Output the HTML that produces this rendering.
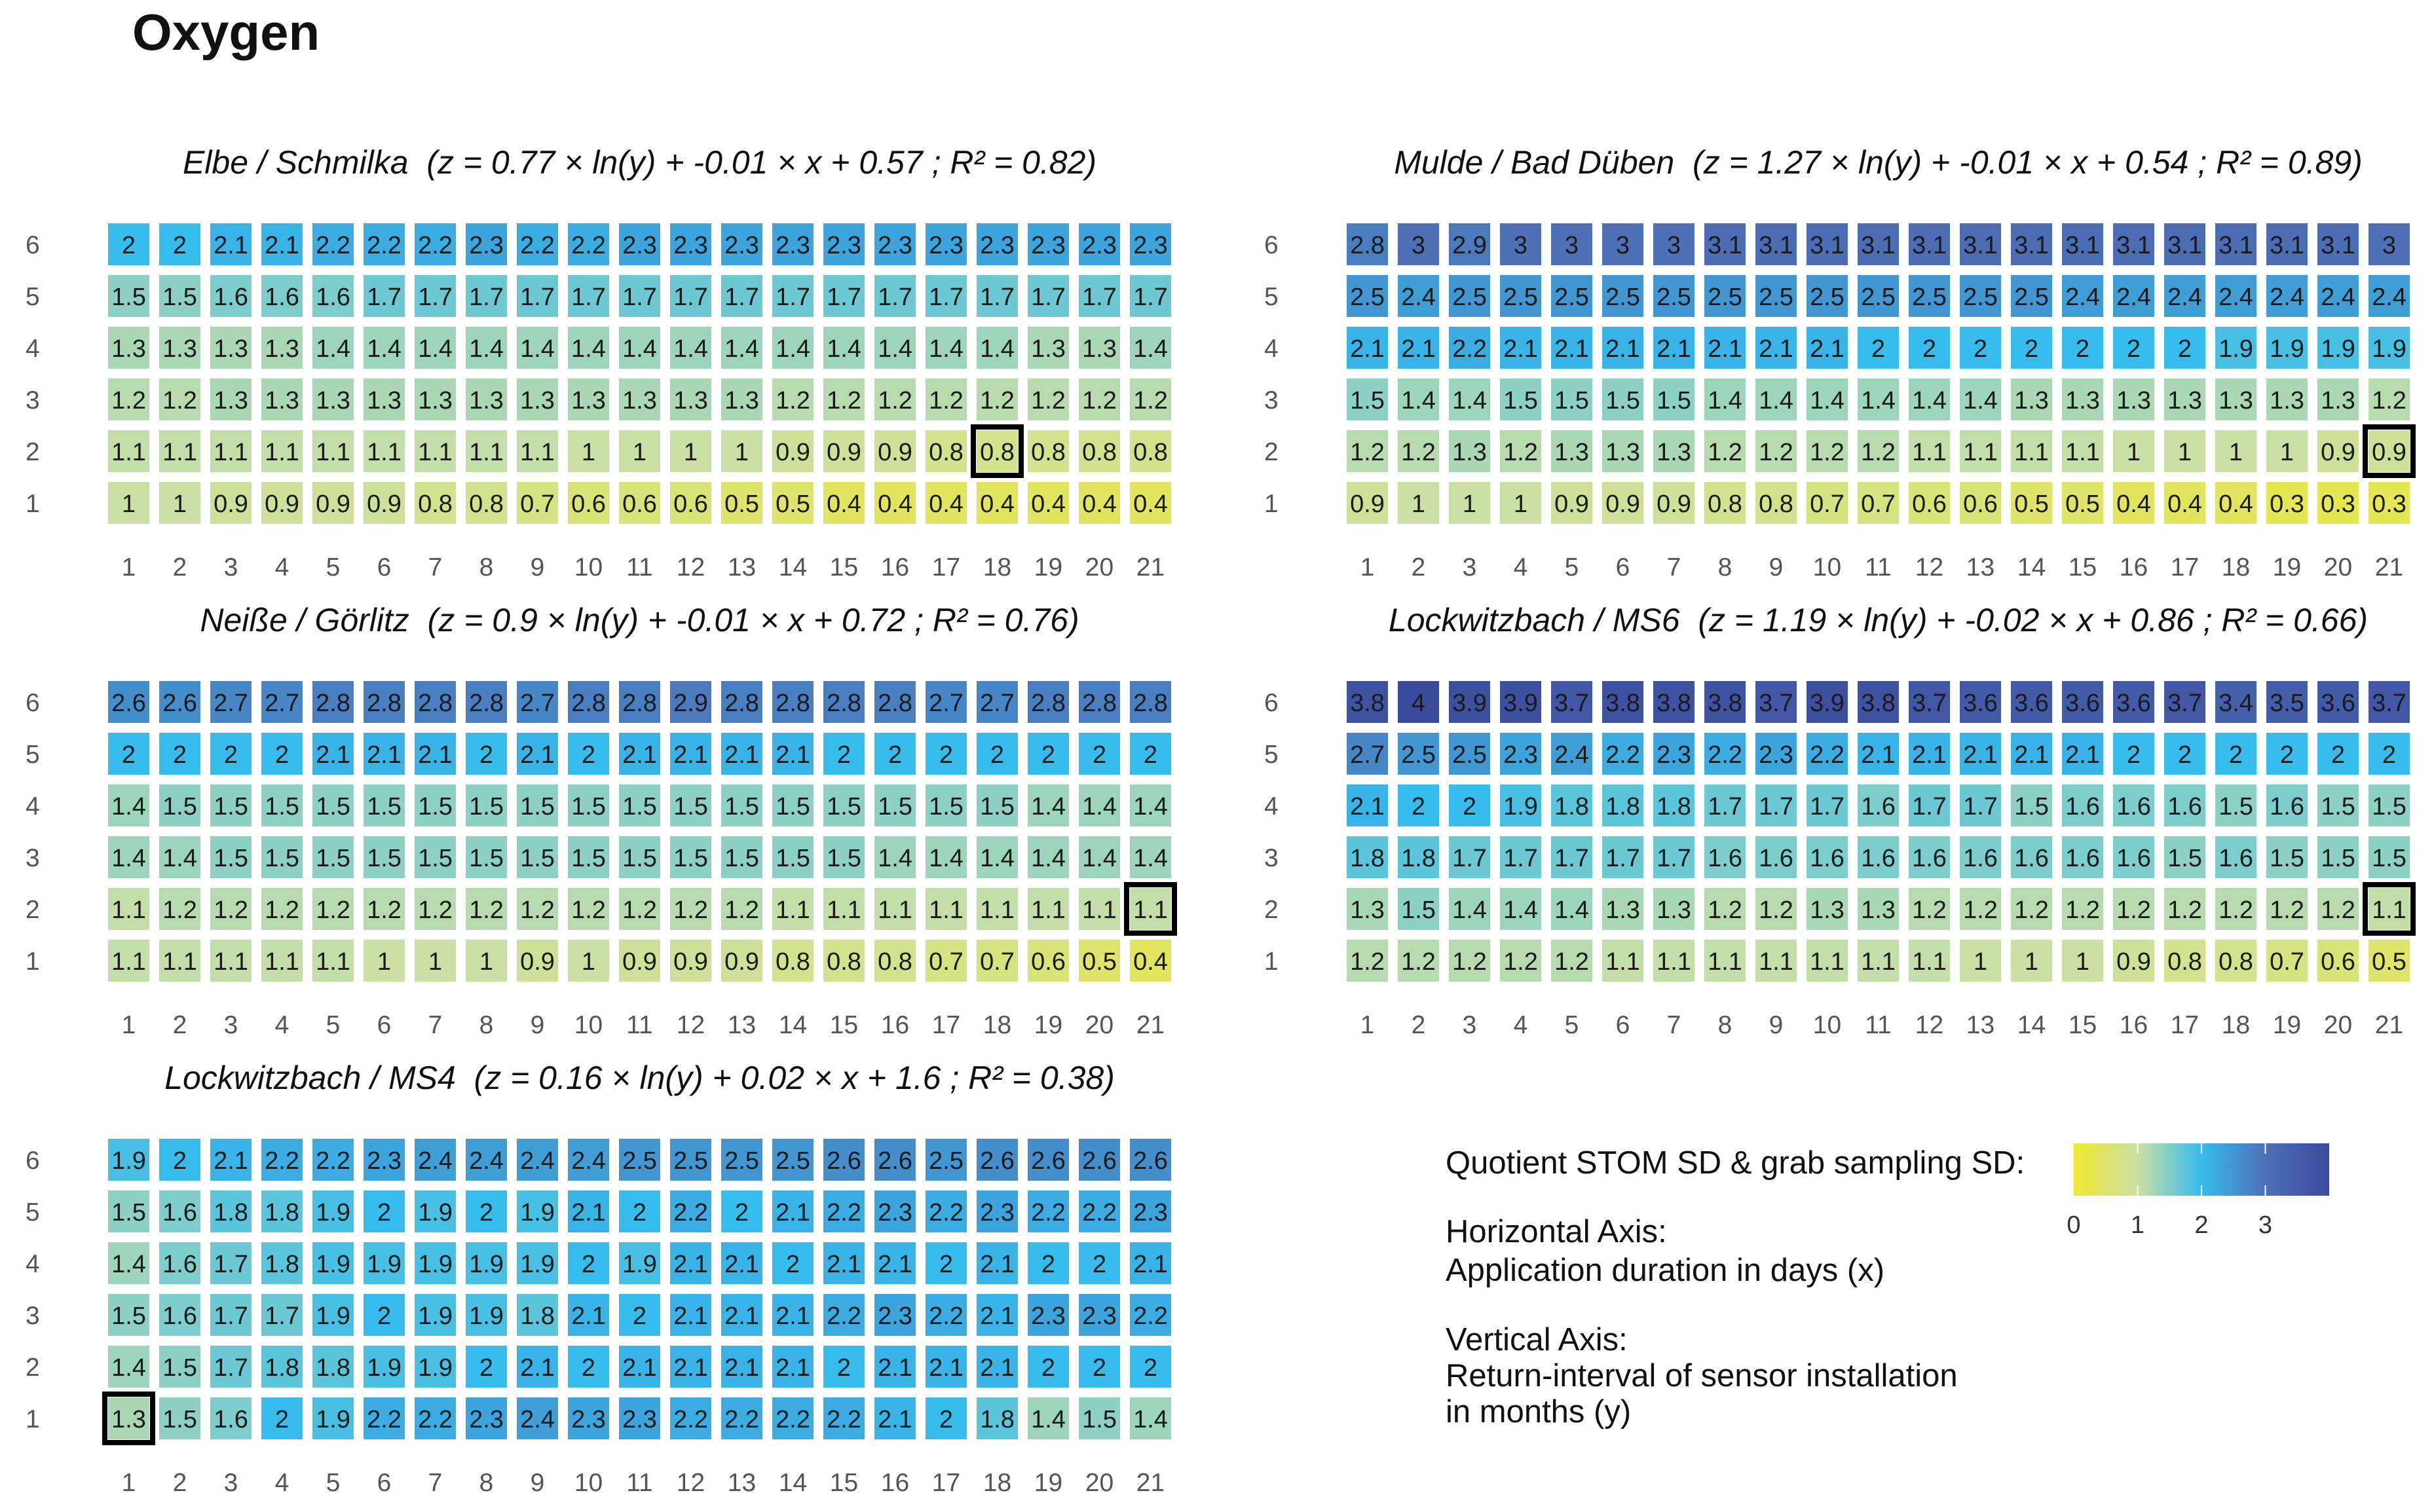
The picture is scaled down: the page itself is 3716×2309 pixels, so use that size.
<!DOCTYPE html>
<html><head><meta charset="utf-8">
<style>
html,body{margin:0;padding:0;background:#fff;}
svg{display:block;font-family:"Liberation Sans",sans-serif;}
text{white-space:pre;}
</style></head>
<body>
<svg id="chart" width="3716" height="2309" viewBox="0 0 3716 2309" xmlns="http://www.w3.org/2000/svg">
<rect width="3716" height="2309" fill="#fff"/>
<text x="202" y="76" font-size="78" font-weight="bold" fill="#111">Oxygen</text>
<g id="panels"></g>
<g>
<defs><linearGradient id="cbar" x1="0" x2="1" y1="0" y2="0">
<stop offset="0" stop-color="#f0ea30"/><stop offset="0.25" stop-color="#cbe0a4"/><stop offset="0.5" stop-color="#36bced"/><stop offset="0.75" stop-color="#4e70b6"/><stop offset="1" stop-color="#3b4b9c"/></linearGradient></defs>
<text x="2207" y="1792" font-size="49" fill="#111">Quotient STOM SD &amp; grab sampling SD:</text>
<rect x="3166" y="1746" width="390" height="80" fill="url(#cbar)"/>
<g id="cbticks"></g>
<text x="2207" y="1897" font-size="49" fill="#111">Horizontal Axis:</text>
<text x="2207" y="1956" font-size="49" fill="#111">Application duration in days (x)</text>
<text x="2207" y="2062" font-size="49" fill="#111">Vertical Axis:</text>
<text x="2207" y="2117" font-size="49" fill="#111">Return-interval of sensor installation</text>
<text x="2207" y="2172" font-size="49" fill="#111">in months (y)</text>
</g>
</svg>
<script>
const days = [1,2,3,4,5,6,7,8,9,10,11,12,13,14,15,16,17,18,19,20,21];
const months = [1,2,3,4,5,6];
const colorTicks = [0,1,2,3];
const panelTitles = [
 "Elbe / Schmilka  (z = 0.77 × ln(y) + -0.01 × x + 0.57 ; R² = 0.82)",
 "Mulde / Bad Düben  (z = 1.27 × ln(y) + -0.01 × x + 0.54 ; R² = 0.89)",
 "Neiße / Görlitz  (z = 0.9 × ln(y) + -0.01 × x + 0.72 ; R² = 0.76)",
 "Lockwitzbach / MS6  (z = 1.19 × ln(y) + -0.02 × x + 0.86 ; R² = 0.66)",
 "Lockwitzbach / MS4  (z = 0.16 × ln(y) + 0.02 × x + 1.6 ; R² = 0.38)"
];
// rows listed from month 1 up to month 6
const elbe = [
 [1,1,0.9,0.9,0.9,0.9,0.8,0.8,0.7,0.6,0.6,0.6,0.5,0.5,0.4,0.4,0.4,0.4,0.4,0.4,0.4],
 [1.1,1.1,1.1,1.1,1.1,1.1,1.1,1.1,1.1,1,1,1,1,0.9,0.9,0.9,0.8,0.8,0.8,0.8,0.8],
 [1.2,1.2,1.3,1.3,1.3,1.3,1.3,1.3,1.3,1.3,1.3,1.3,1.3,1.2,1.2,1.2,1.2,1.2,1.2,1.2,1.2],
 [1.3,1.3,1.3,1.3,1.4,1.4,1.4,1.4,1.4,1.4,1.4,1.4,1.4,1.4,1.4,1.4,1.4,1.4,1.3,1.3,1.4],
 [1.5,1.5,1.6,1.6,1.6,1.7,1.7,1.7,1.7,1.7,1.7,1.7,1.7,1.7,1.7,1.7,1.7,1.7,1.7,1.7,1.7],
 [2,2,2.1,2.1,2.2,2.2,2.2,2.3,2.2,2.2,2.3,2.3,2.3,2.3,2.3,2.3,2.3,2.3,2.3,2.3,2.3]
];
const mulde = [
 [0.9,1,1,1,0.9,0.9,0.9,0.8,0.8,0.7,0.7,0.6,0.6,0.5,0.5,0.4,0.4,0.4,0.3,0.3,0.3],
 [1.2,1.2,1.3,1.2,1.3,1.3,1.3,1.2,1.2,1.2,1.2,1.1,1.1,1.1,1.1,1,1,1,1,0.9,0.9],
 [1.5,1.4,1.4,1.5,1.5,1.5,1.5,1.4,1.4,1.4,1.4,1.4,1.4,1.3,1.3,1.3,1.3,1.3,1.3,1.3,1.2],
 [2.1,2.1,2.2,2.1,2.1,2.1,2.1,2.1,2.1,2.1,2,2,2,2,2,2,2,1.9,1.9,1.9,1.9],
 [2.5,2.4,2.5,2.5,2.5,2.5,2.5,2.5,2.5,2.5,2.5,2.5,2.5,2.5,2.4,2.4,2.4,2.4,2.4,2.4,2.4],
 [2.8,3,2.9,3,3,3,3,3.1,3.1,3.1,3.1,3.1,3.1,3.1,3.1,3.1,3.1,3.1,3.1,3.1,3]
];
const neisse = [
 [1.1,1.1,1.1,1.1,1.1,1,1,1,0.9,1,0.9,0.9,0.9,0.8,0.8,0.8,0.7,0.7,0.6,0.5,0.4],
 [1.1,1.2,1.2,1.2,1.2,1.2,1.2,1.2,1.2,1.2,1.2,1.2,1.2,1.1,1.1,1.1,1.1,1.1,1.1,1.1,1.1],
 [1.4,1.4,1.5,1.5,1.5,1.5,1.5,1.5,1.5,1.5,1.5,1.5,1.5,1.5,1.5,1.4,1.4,1.4,1.4,1.4,1.4],
 [1.4,1.5,1.5,1.5,1.5,1.5,1.5,1.5,1.5,1.5,1.5,1.5,1.5,1.5,1.5,1.5,1.5,1.5,1.4,1.4,1.4],
 [2,2,2,2,2.1,2.1,2.1,2,2.1,2,2.1,2.1,2.1,2.1,2,2,2,2,2,2,2],
 [2.6,2.6,2.7,2.7,2.8,2.8,2.8,2.8,2.7,2.8,2.8,2.9,2.8,2.8,2.8,2.8,2.7,2.7,2.8,2.8,2.8]
];
const ms6 = [
 [1.2,1.2,1.2,1.2,1.2,1.1,1.1,1.1,1.1,1.1,1.1,1.1,1,1,1,0.9,0.8,0.8,0.7,0.6,0.5],
 [1.3,1.5,1.4,1.4,1.4,1.3,1.3,1.2,1.2,1.3,1.3,1.2,1.2,1.2,1.2,1.2,1.2,1.2,1.2,1.2,1.1],
 [1.8,1.8,1.7,1.7,1.7,1.7,1.7,1.6,1.6,1.6,1.6,1.6,1.6,1.6,1.6,1.6,1.5,1.6,1.5,1.5,1.5],
 [2.1,2,2,1.9,1.8,1.8,1.8,1.7,1.7,1.7,1.6,1.7,1.7,1.5,1.6,1.6,1.6,1.5,1.6,1.5,1.5],
 [2.7,2.5,2.5,2.3,2.4,2.2,2.3,2.2,2.3,2.2,2.1,2.1,2.1,2.1,2.1,2,2,2,2,2,2],
 [3.8,4,3.9,3.9,3.7,3.8,3.8,3.8,3.7,3.9,3.8,3.7,3.6,3.6,3.6,3.6,3.7,3.4,3.5,3.6,3.7]
];
const ms4 = [
 [1.3,1.5,1.6,2,1.9,2.2,2.2,2.3,2.4,2.3,2.3,2.2,2.2,2.2,2.2,2.1,2,1.8,1.4,1.5,1.4],
 [1.4,1.5,1.7,1.8,1.8,1.9,1.9,2,2.1,2,2.1,2.1,2.1,2.1,2,2.1,2.1,2.1,2,2,2],
 [1.5,1.6,1.7,1.7,1.9,2,1.9,1.9,1.8,2.1,2,2.1,2.1,2.1,2.2,2.3,2.2,2.1,2.3,2.3,2.2],
 [1.4,1.6,1.7,1.8,1.9,1.9,1.9,1.9,1.9,2,1.9,2.1,2.1,2,2.1,2.1,2,2.1,2,2,2.1],
 [1.5,1.6,1.8,1.8,1.9,2,1.9,2,1.9,2.1,2,2.2,2,2.1,2.2,2.3,2.2,2.3,2.2,2.2,2.3],
 [1.9,2,2.1,2.2,2.2,2.3,2.4,2.4,2.4,2.4,2.5,2.5,2.5,2.5,2.6,2.6,2.5,2.6,2.6,2.6,2.6]
];
const panelData = [elbe, mulde, neisse, ms6, ms4];
const highlightDay = [18,21,21,21,1];
const highlightMonth = [2,2,2,2,1];
const panelNames = ["elbe-schmilka","mulde-bad-dueben","neisse-goerlitz","lockwitzbach-ms6","lockwitzbach-ms4"];

const NS="http://www.w3.org/2000/svg";
const stops=[[240,234,48],[203,224,164],[54,188,237],[78,112,182],[59,75,156]];
function color(v){
  let t=Math.max(0,Math.min(3.999,v)); let i=Math.floor(t), f=t-i;
  if(i===1) f=Math.pow(f,1.25);
  const a=stops[i], b=stops[i+1];
  return `rgb(${a.map((c,k)=>Math.round(c+(b[k]-c)*f)).join(',')})`;
}
const pitchX=78, pitchY=79, cellW=63, cellH=64;
function mk(tag,attrs,parent){const e=document.createElementNS(NS,tag);for(const k in attrs)e.setAttribute(k,attrs[k]);parent.appendChild(e);return e;}
const root=document.getElementById('panels');
panelData.forEach((data,p)=>{
  const ox = 165 + (p%2)*1891;
  const oy = 341 + Math.floor(p/2)*699; // top of row 6
  const xPos = d => ox + (d-1)*pitchX;
  const yPos = m => oy + (6-m)*pitchY;
  const g=mk('g',{},root);
  
  
  const t=mk('text',{x:xPos(11)+cellW/2,y:oy-76,'font-size':50,'font-style':'italic','text-anchor':'middle',fill:'#111'},g);
  
  
  t.textContent=panelTitles[p];
  months.forEach(m=>{
    const yl=mk('text',{x:ox-126,y:yPos(m)+cellH/2+14,'font-size':39,fill:'#555'},g);
    
    
    yl.textContent=m;
  });
  days.forEach(d=>{
    const xl=mk('text',{x:xPos(d)+cellW/2,y:oy+538,'font-size':39,fill:'#555','text-anchor':'middle'},g);
    
    
    xl.textContent=d;
  });
  data.forEach((row,ri)=>{
    const m=months[ri];
    row.forEach((v,ci)=>{
      const d=days[ci];
      const r=mk('rect',{x:xPos(d),y:yPos(m),width:cellW,height:cellH,fill:color(v)},g);
      
      
      const tx=mk('text',{x:xPos(d)+cellW/2,y:yPos(m)+cellH/2+14,'font-size':38,'text-anchor':'middle',fill:'#1a1a1a'},g);
      
      
      tx.textContent=v;
    });
  });
  const hb=mk('rect',{x:xPos(highlightDay[p])-5,y:yPos(highlightMonth[p])-5,width:cellW+10,height:cellH+10,fill:'none',stroke:'#000','stroke-width':8},g);
  
  
});
const cb=document.getElementById('cbticks');
colorTicks.forEach(v=>{
  const x=3166+v*97.5;
  if(v>0){
    const l1=mk('line',{x1:x,x2:x,y1:1746,y2:1762,stroke:'#fff','stroke-width':2},cb);
    
    
    const l2=mk('line',{x1:x,x2:x,y1:1810,y2:1826,stroke:'#fff','stroke-width':2},cb);
    
    
  }
  const tl=mk('text',{x:x,y:1883,'font-size':38,'text-anchor':'middle',fill:'#333'},cb);
  
  
  tl.textContent=v;
});
</script>
</body></html>
